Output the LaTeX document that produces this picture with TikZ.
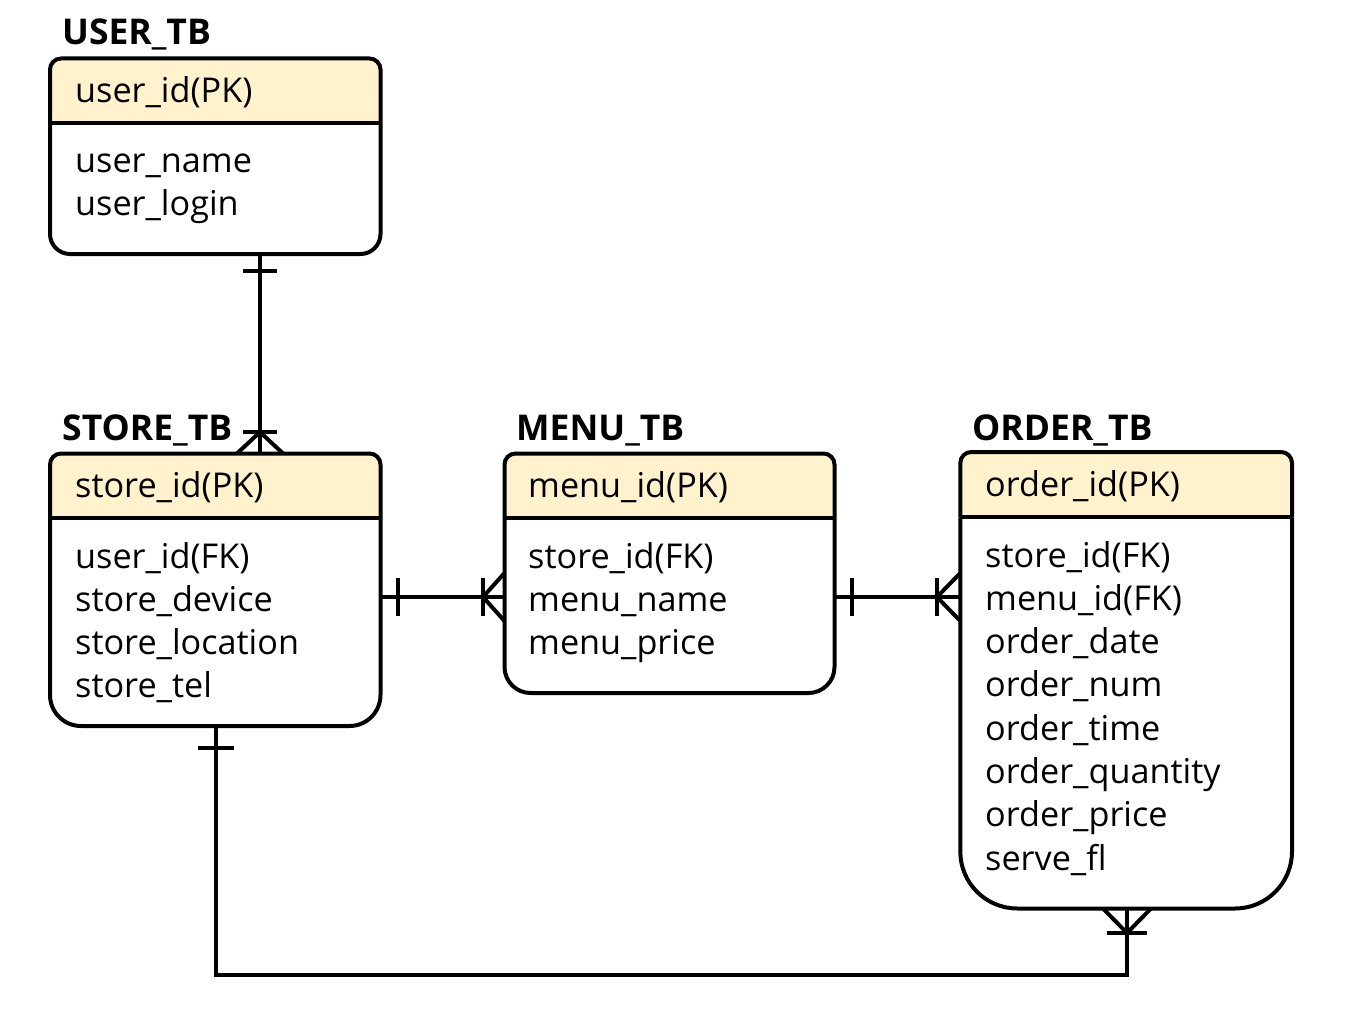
\documentclass[tikz,border=0pt]{standalone}
\usepackage{fontspec}
\setmainfont{Open Sans}
\usetikzlibrary{fit}
\definecolor{hdrfill}{HTML}{FFF2CC}
\begin{document}
\begin{tikzpicture}[x=1pt,y=-1pt,
  ln/.style={line width=4pt,black},
  tabbox/.style={inner sep=0pt,outer sep=0pt,draw=none},
  fld/.style={anchor=base west,inner sep=0pt,font=\fontsize{34.2}{40}\selectfont},
  ttl/.style={anchor=base west,inner sep=0pt,font=\fontsize{35.5}{40}\selectfont\bfseries}]
\useasboundingbox (0,0) rectangle (1348,1027);

% ---------- USER_TB ----------
\filldraw[ln,fill=hdrfill,rounded corners=11] (50,123) -- (50,58.5) -- (380.5,58.5) -- (380.5,123);
\draw[ln,rounded corners=20] (50,123) -- (50,254) -- (380.5,254) -- (380.5,123);
\draw[ln] (50,123) -- (380.5,123);
\node[tabbox,fit={(50,58.5)(380.5,254)}] (user) {};
\node[ttl] (userT) at (62,45) {USER\_TB};
\node[fld] (user1) at (75,103) {user\_id(PK)};
\node[fld] (user2) at (75,172.5) {user\_name};
\node[fld] (user3) at (75,215.5) {user\_login};

% ---------- STORE_TB ----------
\filldraw[ln,fill=hdrfill,rounded corners=11] (50,518) -- (50,453.5) -- (380.5,453.5) -- (380.5,518);
\draw[ln,rounded corners=31] (50,518) -- (50,726) -- (380.5,726) -- (380.5,518);
\draw[ln] (50,518) -- (380.5,518);
\node[tabbox,fit={(50,453.5)(380.5,726)}] (store) {};
\node[ttl] (storeT) at (62,440.5) {STORE\_TB};
\node[fld] (store1) at (75,497.5) {store\_id(PK)};
\node[fld] (store2) at (75,568) {user\_id(FK)};
\node[fld] (store3) at (75,611.3) {store\_device};
\node[fld] (store4) at (75,654.6) {store\_location};
\node[fld] (store5) at (75,697.9) {store\_tel};

% ---------- MENU_TB ----------
\filldraw[ln,fill=hdrfill,rounded corners=11] (504.5,518) -- (504.5,453.5) -- (834.5,453.5) -- (834.5,518);
\draw[ln,rounded corners=26] (504.5,518) -- (504.5,693) -- (834.5,693) -- (834.5,518);
\draw[ln] (504.5,518) -- (834.5,518);
\node[tabbox,fit={(504.5,453.5)(834.5,693)}] (menu) {};
\node[ttl] (menuT) at (516,440.5) {MENU\_TB};
\node[fld] (menu1) at (528,497.5) {menu\_id(PK)};
\node[fld] (menu2) at (528,568) {store\_id(FK)};
\node[fld] (menu3) at (528,611.3) {menu\_name};
\node[fld] (menu4) at (528,654.6) {menu\_price};

% ---------- ORDER_TB ----------
\filldraw[ln,fill=hdrfill,rounded corners=11] (960.3,517.3) -- (960.3,452) -- (1292,452) -- (1292,517.3);
\draw[ln,rounded corners=57] (960.3,517.3) -- (960.3,908.5) -- (1292,908.5) -- (1292,517.3);
\draw[ln] (960.3,517.3) -- (1292,517.3);
\node[tabbox,fit={(960.3,452)(1292,908.5)}] (order) {};
\node[ttl] (orderT) at (972,440) {ORDER\_TB};
\node[fld] (order1) at (985,496.7) {order\_id(PK)};
\node[fld] (order2) at (985,567) {store\_id(FK)};
\node[fld] (order3) at (985,610.3) {menu\_id(FK)};
\node[fld] (order4) at (985,653.6) {order\_date};
\node[fld] (order5) at (985,696.9) {order\_num};
\node[fld] (order6) at (985,740.2) {order\_time};
\node[fld] (order7) at (985,783.5) {order\_quantity};
\node[fld] (order8) at (985,826.8) {order\_price};
\node[fld] (order9) at (985,870.1) {serve\_fl};

% ---------- connectors ----------
% USER_TB -- STORE_TB
\draw[ln] (user.south -| 260,0) -- (store.north -| 260,0);
\draw[ln] (243,271) -- (277,271);
\draw[ln] (243,432) -- (277,432);
\draw[ln] (237,453.5) -- (260,432) -- (283,453.5);

% STORE_TB -- MENU_TB
\draw[ln] (store.east |- 0,597) -- (menu.west |- 0,597);
\draw[ln] (398,578) -- (398,616);
\draw[ln] (483,578) -- (483,616);
\draw[ln] (504.5,573) -- (483,597) -- (504.5,621);

% MENU_TB -- ORDER_TB
\draw[ln] (menu.east |- 0,597) -- (order.west |- 0,597);
\draw[ln] (852,578) -- (852,616);
\draw[ln] (937,578) -- (937,616);
\draw[ln] (960.3,573) -- (937,597) -- (960.3,621);

% STORE_TB -- ORDER_TB
\coordinate (bend) at (216,975);
\draw[ln] (store.south -| 216,0) -- (bend) -| (order.south -| 1127,0);
\draw[ln] (198,748) -- (234,748);
\draw[ln] (1107,933) -- (1147,933);
\draw[ln] (1103,908.5) -- (1127,933) -- (1151,908.5);
\end{tikzpicture}
\end{document}
